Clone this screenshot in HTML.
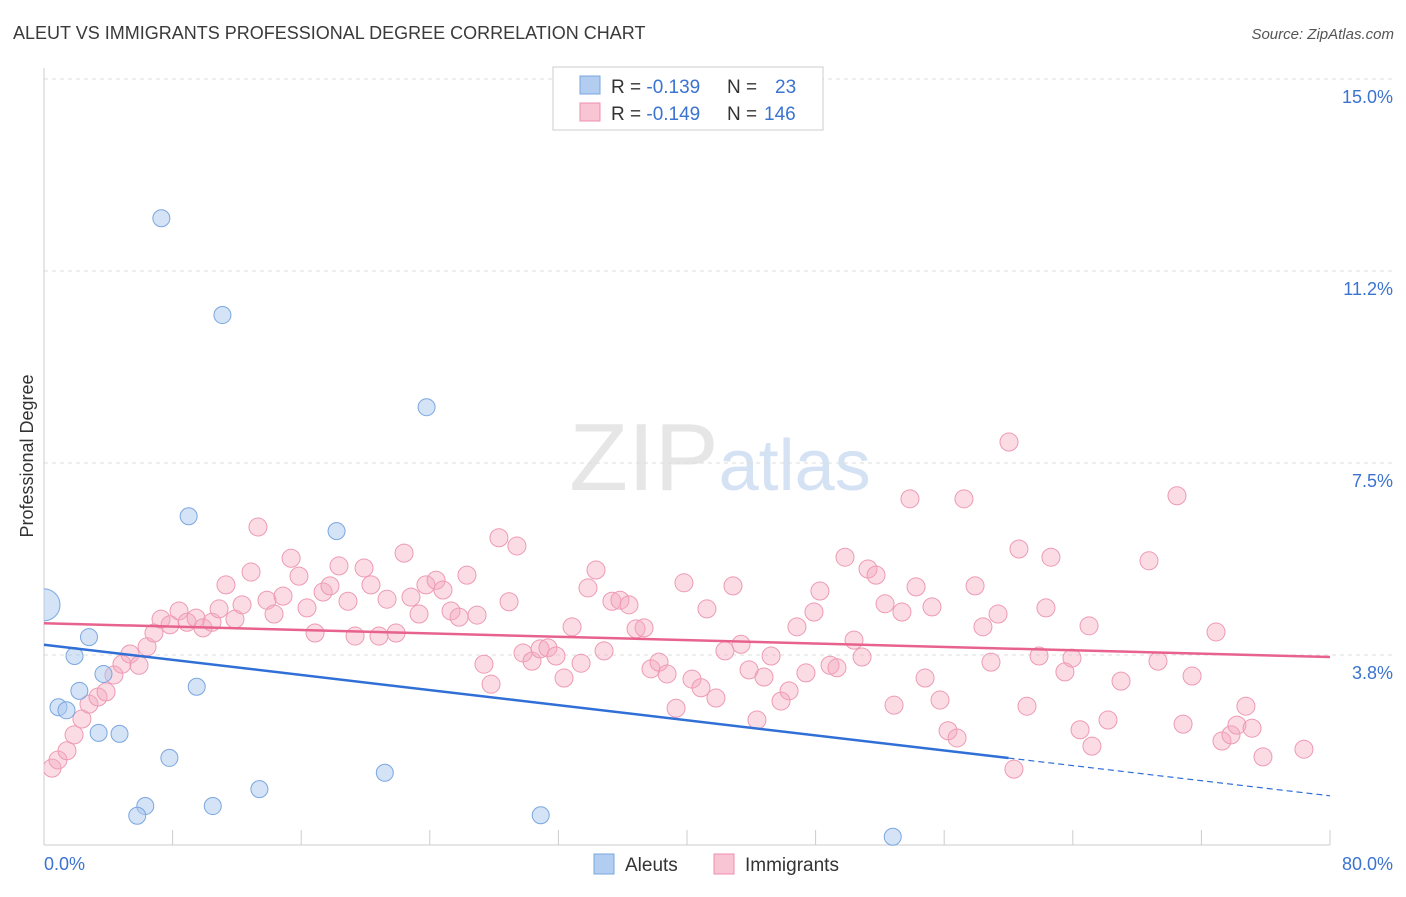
<!DOCTYPE html>
<html><head><meta charset="utf-8"><style>
body{margin:0;background:#fff;font-family:"Liberation Sans",sans-serif;}
svg text{font-family:"Liberation Sans",sans-serif;}
</style></head><body>
<svg id="chart" width="1406" height="892" viewBox="0 0 1406 892" xmlns="http://www.w3.org/2000/svg">
<defs><clipPath id="plotclip"><rect x="44" y="60" width="1360" height="786"/></clipPath></defs>
<text x="13" y="39" font-size="18" fill="#3a3a3a">ALEUT VS IMMIGRANTS PROFESSIONAL DEGREE CORRELATION CHART</text>
<text x="1394" y="39" font-size="15" fill="#555" text-anchor="end" font-style="italic">Source: ZipAtlas.com</text>
<text x="720" y="490" font-size="96" text-anchor="middle" fill="#e6e6e6" font-family="Liberation Serif">ZIP<tspan fill="#d4e2f4" font-family="Liberation Sans" font-size="72">atlas</tspan></text>
<g id="grid"></g>
<g id="axes"></g>
<g id="pts" clip-path="url(#plotclip)"></g>
<g id="trends"></g>
<text transform="translate(33,456) rotate(-90)" font-size="18" fill="#333" text-anchor="middle">Professional Degree</text>
<g>
<rect x="553" y="67" width="270" height="63" fill="#fff" stroke="#ccc"/>
<rect x="580" y="76" width="20" height="18" fill="#b3cdf0" stroke="#7aa7e0"/>
<rect x="580" y="103" width="20" height="18" fill="#f8c5d4" stroke="#ee8fae"/>
<text x="611" y="93" font-size="19" fill="#333">R = <tspan fill="#3b73d1">-0.139</tspan><tspan x="727">N =</tspan><tspan fill="#3b73d1" x="775">23</tspan></text>
<text x="611" y="120" font-size="19" fill="#333">R = <tspan fill="#3b73d1">-0.149</tspan><tspan x="727">N =</tspan><tspan fill="#3b73d1" x="764">146</tspan></text>
</g>
<g>
<rect x="594" y="854" width="20" height="20" fill="#b3cdf0" stroke="#7aa7e0"/>
<text x="625" y="871" font-size="19" fill="#333">Aleuts</text>
<rect x="714" y="854" width="20" height="20" fill="#f8c5d4" stroke="#ee8fae"/>
<text x="745" y="871" font-size="19" fill="#333">Immigrants</text>
</g>
</svg>
<script>
const yTicks=[3.75,7.5,11.25,15];
const yTickLabels=["3.8%","7.5%","11.2%","15.0%"];
const xTickLabels=["0.0%","80.0%"];
const aleutX=[0,7.3,11.1,23.8,9.0,18.2,2.8,1.9,3.7,2.2,9.5,0.9,1.4,3.4,4.7,7.8,21.2,13.4,6.3,10.5,5.8,30.9,52.8];
const aleutY=[4.73,12.28,10.39,8.59,6.46,6.17,4.1,3.73,3.38,3.05,3.13,2.73,2.67,2.23,2.21,1.74,1.45,1.13,0.8,0.8,0.61,0.62,0.2];
const immPx=[[52,768],[58,760],[67,751],[74,735],[82,719],[89,704],[98,697],[106,692],[114,675],[122,664],[130,654],[139,665],[147,647],[154,633],[161,619],[170,625],[179,611],[187,622],[196,618],[203,628],[212,622],[219,609],[226,585],[235,619],[242,605],[251,572],[258,527],[267,600],[274,614],[283,596],[291,558],[299,576],[307,608],[315,633],[323,592],[330,586],[339,566],[348,601],[355,636],[364,568],[371,585],[379,636],[387,599],[396,633],[404,553],[411,597],[419,614],[426,585],[436,580],[443,590],[451,611],[459,617],[467,575],[477,615],[484,664],[491,684],[499,538],[509,602],[517,546],[523,653],[532,661],[540,649],[548,648],[556,656],[564,678],[572,627],[581,663],[588,588],[596,570],[604,651],[612,601],[620,600],[629,605],[636,629],[644,628],[651,669],[659,662],[667,674],[676,708],[684,583],[692,679],[701,688],[707,609],[716,698],[725,651],[733,586],[741,644],[749,670],[757,720],[764,677],[771,656],[781,701],[789,691],[797,627],[806,673],[814,612],[820,591],[830,665],[837,668],[845,557],[854,640],[862,657],[868,569],[876,575],[885,604],[894,705],[902,612],[910,499],[916,587],[925,678],[932,607],[940,700],[948,731],[957,738],[964,499],[975,586],[983,627],[991,662],[998,614],[1009,442],[1014,769],[1019,549],[1027,706],[1039,656],[1046,608],[1051,557],[1065,672],[1072,658],[1080,730],[1089,626],[1092,746],[1108,720],[1121,681],[1149,561],[1158,661],[1177,496],[1183,724],[1192,676],[1216,632],[1222,741],[1231,735],[1237,725],[1246,706],[1252,728],[1263,757],[1304,749]];
const immX=immPx.map(p=>+((p[0]-44)/16.075).toFixed(2));
const immY=immPx.map(p=>+((847-p[1])/51.2).toFixed(2));
const aleutTrend=[3.95,1.0];      // at x=0 and x=80
const immTrend=[4.37,3.71];
const X=v=>44+v*16.075, Y=v=>847-v*51.2;
const NS="http://www.w3.org/2000/svg";
function mk(t,a,p){const e=document.createElementNS(NS,t);for(const k in a)e.setAttribute(k,a[k]);p.appendChild(e);return e;}
const grid=document.getElementById('grid'),axes=document.getElementById('axes');
yTicks.forEach((v,i)=>{
 const l=mk('line',{x1:44,x2:1394,y1:Y(v),y2:Y(v),stroke:'#ddd','stroke-dasharray':'4,4'},grid);
 
 
 const t=mk('text',{x:1393,y:Y(v)+24,'font-size':18,fill:'#3b73d1','text-anchor':'end'},grid);
 t.textContent=yTickLabels[i];
 
 
});
mk('line',{x1:44,x2:44,y1:68,y2:845,stroke:'#ccc'},axes);
mk('line',{x1:44,x2:1330,y1:845,y2:845,stroke:'#ccc'},axes);
for(let i=0;i<=10;i++){const l=mk('line',{x1:X(i*8),x2:X(i*8),y1:830,y2:845,stroke:'#ccc'},axes);
 
 }
const xl0=mk('text',{x:44,y:870,'font-size':18,fill:'#3b73d1'},axes);xl0.textContent=xTickLabels[0];


const xl1=mk('text',{x:1393,y:870,'font-size':18,fill:'#3b73d1','text-anchor':'end'},axes);xl1.textContent=xTickLabels[1];


const pts=document.getElementById('pts');
immX.forEach((x,i)=>{const c=mk('circle',{cx:X(x),cy:Y(immY[i]),r:9,fill:'rgba(244,167,191,0.4)',stroke:'#ee9ab5','stroke-width':1},pts);
 
 });
aleutX.forEach((x,i)=>{const c=mk('circle',{cx:X(x),cy:Y(aleutY[i]),r:i===0?16:8.5,fill:'rgba(170,200,238,0.5)',stroke:'#7aa7e0','stroke-width':1},pts);
 
 });
const tr=document.getElementById('trends');
const ay=x=>aleutTrend[0]+(aleutTrend[1]-aleutTrend[0])*x/80;
const l1=mk('line',{x1:X(0),y1:Y(immTrend[0]),x2:X(80),y2:Y(immTrend[1]),stroke:'#e8628e','stroke-width':2.5},tr);


const l2=mk('line',{x1:X(0),y1:Y(ay(0)),x2:X(60),y2:Y(ay(60)),stroke:'#2f6fd6','stroke-width':2.5},tr);


const l3=mk('line',{x1:X(60),y1:Y(ay(60)),x2:X(80),y2:Y(ay(80)),stroke:'#2f6fd6','stroke-width':1.2,'stroke-dasharray':'6,4'},tr);


</script>
</body></html>
